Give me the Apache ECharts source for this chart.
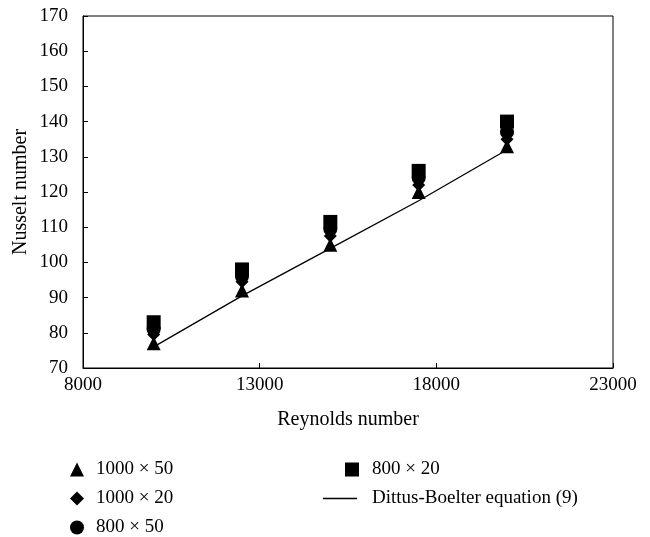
<!DOCTYPE html>
<html>
<head>
<meta charset="utf-8">
<script src="https://cdn.jsdelivr.net/npm/echarts@6/dist/echarts.min.js"></script>
<style>html,body{margin:0;padding:0;background:#fff;}#c{width:650px;height:537px;}</style>
</head>
<body>
<div id="c"></div>
<script>
const reynolds = [10000, 12500, 15000, 17500, 20000];
const nu1000x50 = [77, 92, 105, 120, 133];
const nu1000x20 = [79.5, 94.5, 107.5, 122, 135];
const nu800x50 = [81, 96, 109.5, 124, 137];
const nu800x20 = [83, 98, 111.5, 126, 140];
const dittusBoelter = [76, 90.5, 104, 117.5, 132];
const names = ['1000 × 50', '1000 × 20', '800 × 50', '800 × 20', 'Dittus-Boelter equation (9)'];

const FONT = 'Liberation Serif';
const FS = 19;
const pair = (ys) => reynolds.map((x, i) => [x, ys[i]]);
const chart = echarts.init(document.getElementById('c'));
const mk = (name, data, symbol, size) => ({
  name, type: 'scatter', data: pair(data), symbol, symbolSize: size,
  itemStyle: { color: '#000', opacity: 1 }, z: 3
});
const legendAt = (name, left, top, w, h, icon, pad) => ({
  data: [icon ? { name, icon } : name], left, top, itemWidth: w, itemHeight: h, padding: 0,
  textStyle: { fontFamily: FONT, fontSize: FS, color: '#000', padding: [0, 0, 0, pad] }
});
chart.setOption({
  animation: false,
  grid: { left: 83, right: 37, top: 16, bottom: 169, show: true, borderColor: '#000', borderWidth: 1 },
  xAxis: {
    type: 'value', min: 8000, max: 23000, interval: 5000,
    name: 'Reynolds number', nameLocation: 'middle', nameGap: 42,
    nameTextStyle: { fontFamily: FONT, fontSize: 20, color: '#000' },
    axisLine: { lineStyle: { color: '#000' } },
    axisTick: { inside: true, length: 5, lineStyle: { color: '#000' } },
    axisLabel: { fontFamily: FONT, fontSize: FS, color: '#000', margin: 8, formatter: (v) => String(v) },
    splitLine: { show: false }
  },
  yAxis: {
    type: 'value', min: 70, max: 170, interval: 10,
    name: 'Nusselt number', nameLocation: 'middle', nameGap: 52, nameMoveOverlap: false,
    nameTextStyle: { fontFamily: FONT, fontSize: 20, color: '#000' },
    axisLine: { lineStyle: { color: '#000' } },
    axisTick: { inside: true, length: 5, lineStyle: { color: '#000' } },
    axisLabel: { fontFamily: FONT, fontSize: FS, color: '#000', margin: 15 },
    splitLine: { show: false }
  },
  legend: [
    legendAt(names[0], 70, 460, 14, 14, null, 7),
    legendAt(names[1], 70, 489, 14, 14, null, 7),
    legendAt(names[2], 70, 518, 14, 14, null, 7),
    legendAt(names[3], 345, 460, 14, 14, null, 8),
    legendAt(names[4], 323, 489, 34, 1.5, 'rect', 10)
  ],
  series: [
    mk(names[0], nu1000x50, 'triangle', 14),
    mk(names[1], nu1000x20, 'diamond', 13),
    mk(names[2], nu800x50, 'circle', 14),
    mk(names[3], nu800x20, 'rect', 14),
    {
      name: names[4], type: 'line', data: pair(dittusBoelter), showSymbol: false, symbol: 'none',
      lineStyle: { color: '#000', width: 1.3 }, itemStyle: { color: '#000' }, z: 2
    }
  ]
});
</script>
</body>
</html>
